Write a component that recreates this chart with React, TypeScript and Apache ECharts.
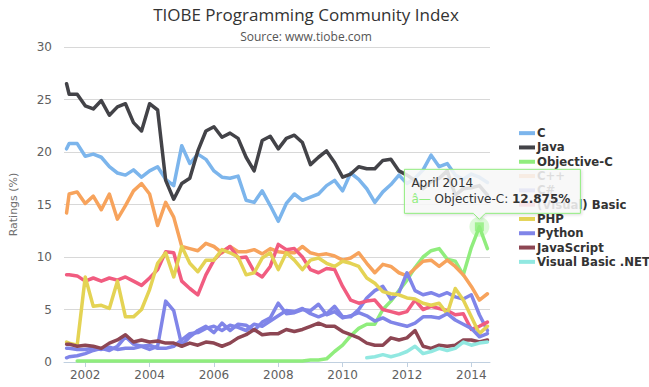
import React, { useEffect, useRef } from "react";
import * as echarts from "echarts";

// x positions (decimal years, quarterly from June 2001)
const years = [
  2001.42, 2001.5, 2001.75, 2002, 2002.25, 2002.5, 2002.75, 2003, 2003.25, 2003.5, 2003.75,
  2004, 2004.25, 2004.5, 2004.75, 2005, 2005.25, 2005.5, 2005.75, 2006, 2006.25, 2006.5, 2006.75,
  2007, 2007.25, 2007.5, 2007.75, 2008, 2008.25, 2008.5, 2008.75, 2009, 2009.25, 2009.5, 2009.75,
  2010, 2010.25, 2010.5, 2010.75, 2011, 2011.25, 2011.5, 2011.75, 2012, 2012.25, 2012.5, 2012.75,
  2013, 2013.25, 2013.5, 2013.75, 2014, 2014.25, 2014.5,
];

const seriesNames = [
  "C", "Java", "Objective-C", "C++", "C#", "(Visual) Basic", "PHP", "Python", "JavaScript", "Visual Basic .NET",
];
const seriesColors = [
  "#7cb5ec", "#434348", "#90ed7d", "#f7a35c", "#8085e9", "#f15c80", "#e4d354", "#8085e8", "#8d4653", "#91e8e1",
];

const cValues = [
  20.3, 20.8, 20.8, 19.6, 19.8, 19.5, 18.6, 18.0, 17.8, 18.3, 17.6,
  18.2, 18.6, 17.4, 16.8, 20.6, 18.9, 19.8, 19.3, 18.2, 17.6, 17.5, 17.7,
  15.4, 15.2, 16.3, 14.9, 13.4, 15.1, 16.0, 15.4, 15.7, 16.0, 16.8, 17.3,
  16.3, 18.0, 17.4, 16.5, 15.2, 16.2, 16.9, 17.8, 17.0, 17.5, 18.3, 19.7,
  18.6, 18.9, 17.8, 17.4, 17.9, 17.6, 17.1,
];
const javaValues = [
  26.5, 25.5, 25.5, 24.4, 24.1, 24.9, 23.5, 24.3, 24.6, 22.8, 22.0,
  24.6, 24.0, 17.3, 15.5, 17.0, 17.5, 20.1, 22.0, 22.4, 21.4, 21.8, 21.3,
  19.5, 18.2, 21.1, 21.5, 20.3, 21.3, 21.6, 20.9, 18.8, 19.5, 20.1, 19.0,
  17.6, 17.9, 18.6, 18.4, 18.4, 19.2, 19.3, 18.2, 17.8, 17.3, 16.5, 17.2,
  17.5, 18.2, 15.9, 16.5, 16.6, 16.8, 15.9,
];
const objcValues = [
  null, null, 0.1, 0.1, 0.1, 0.1, 0.1, 0.1, 0.1, 0.1, 0.1,
  0.1, 0.1, 0.1, 0.1, 0.1, 0.1, 0.1, 0.1, 0.1, 0.1, 0.1, 0.1,
  0.1, 0.1, 0.1, 0.1, 0.1, 0.1, 0.1, 0.1, 0.2, 0.2, 0.3, 1.0,
  1.6, 2.5, 3.2, 3.6, 3.6, 5.0, 5.8, 6.8, 7.8, 9.0, 10.0, 10.6,
  10.8, 9.8, 9.6, 8.3, 10.9, 12.875, 10.8,
];
const cppValues = [
  14.2, 16.0, 16.2, 15.1, 15.8, 14.5, 16.0, 13.6, 14.9, 16.3, 17.0,
  16.0, 13.0, 15.2, 13.8, 11.0, 10.8, 10.6, 11.3, 11.0, 10.4, 11.0, 10.5,
  10.5, 10.7, 10.3, 10.8, 10.5, 10.4, 10.4, 11.0, 10.4, 10.2, 10.3, 10.1,
  9.7, 9.9, 10.4, 9.4, 8.5, 9.3, 9.1, 8.5, 8.2, 8.9, 9.6, 9.7,
  9.1, 9.7, 9.1, 8.3, 7.2, 5.9, 6.5,
];
const csharpValues = [
  0.4, 0.5, 0.6, 0.8, 1.1, 1.3, 1.1, 1.5, 2.4, 1.7, 1.5,
  1.6, 1.3, 1.3, 1.5, 2.1, 2.7, 2.8, 3.2, 3.4, 3.0, 3.5, 3.3,
  3.0, 3.6, 3.4, 3.9, 4.4, 4.9, 4.8, 5.1, 4.6, 4.3, 4.6, 5.3,
  4.3, 4.3, 5.0, 6.1, 6.8, 7.2, 6.0, 6.6, 8.5, 6.8, 6.4, 6.6,
  6.3, 6.6, 6.2, 6.0, 6.4, 4.5, 3.0,
];
const basicValues = [
  8.3, 8.3, 8.2, 7.7, 8.0, 7.7, 8.0, 7.8, 8.1, 7.7, 7.3,
  8.0, 8.8, 10.5, 10.4, 7.7, 7.0, 6.4, 8.3, 9.7, 10.5, 11.0, 9.9,
  10.0, 8.6, 8.1, 9.1, 11.2, 10.7, 10.8, 10.0, 8.8, 8.5, 8.9, 8.8,
  7.2, 5.9, 5.6, 5.8, 5.9, 5.0, 4.8, 4.6, 4.8, 5.9, 5.0, 5.3,
  5.1, 4.9, 4.5, 4.6, 3.1, 3.4, 3.8,
];
const phpValues = [
  1.9, 1.8, 1.6, 8.1, 5.3, 5.4, 5.1, 7.7, 4.3, 4.3, 5.0,
  6.9, 9.4, 10.4, 8.1, 11.0, 9.4, 8.6, 9.7, 9.7, 10.7, 10.4, 10.0,
  8.3, 8.5, 9.9, 10.4, 8.8, 10.4, 9.7, 8.8, 9.7, 9.9, 9.4, 9.1,
  9.6, 9.4, 9.1, 8.0, 7.5, 6.7, 6.5, 6.4, 6.1, 6.0, 5.6, 5.4,
  5.6, 4.6, 7.0, 5.9, 4.3, 2.7, 3.4,
];
const pythonValues = [
  1.3, 1.3, 1.2, 1.2, 1.3, 1.2, 1.4, 1.2, 1.3, 1.3, 1.5,
  1.2, 1.5, 5.8, 4.9, 1.6, 2.4, 3.0, 3.4, 2.8, 3.7, 3.0, 3.6,
  3.5, 3.0, 3.8, 4.2, 5.6, 4.6, 4.7, 5.0, 4.9, 5.5, 4.5, 4.8,
  4.2, 4.4, 4.7, 4.4, 3.9, 4.2, 3.8, 3.6, 3.4, 3.7, 4.3, 4.3,
  4.2, 4.6, 4.0, 3.6, 3.2, 2.4, 2.7,
];
const jsValues = [
  1.7, 1.7, 1.5, 1.6, 1.5, 1.3, 1.8, 2.1, 2.6, 1.9, 2.1,
  1.9, 2.0, 1.8, 1.8, 1.5, 1.8, 1.6, 1.9, 1.8, 1.5, 1.8, 2.3,
  2.6, 3.1, 2.6, 2.7, 2.7, 3.1, 2.9, 3.1, 3.4, 3.7, 3.4, 3.4,
  2.9, 2.6, 2.3, 1.8, 1.6, 1.6, 2.3, 2.1, 2.3, 3.0, 1.5, 1.3,
  1.6, 1.5, 1.6, 2.1, 2.1, 1.9, 2.1,
];
const vbnetValues = [
  null, null, null, null, null, null, null, null, null, null, null,
  null, null, null, null, null, null, null, null, null, null, null, null,
  null, null, null, null, null, null, null, null, null, null, null, null,
  null, null, null, 0.4, 0.5, 0.7, 0.5, 0.7, 1.0, 1.5, 0.8, 1.0,
  1.3, 1.1, 1.3, 1.9, 1.6, 1.8, 1.9,
];

const allValues = [
  cValues, javaValues, objcValues, cppValues, csharpValues, basicValues, phpValues, pythonValues, jsValues, vbnetValues,
];

const xTickYears = [2002, 2004, 2006, 2008, 2010, 2012, 2014];

const hoverSeries = 2; // Objective-C
const hoverIndex = 52; // April 2014
const hoverLabel = "April 2014";

export default function App() {
  const ref = useRef<HTMLDivElement>(null);

  useEffect(() => {
    if (!ref.current) return;
    const chart = echarts.init(ref.current, null, { renderer: "svg" });

    const toPairs = (vals: (number | null)[]) =>
      years.map((y, i) => [y, vals[i]]).filter((p) => p[1] !== null);

    const hx = years[hoverIndex];
    const hy = allValues[hoverSeries][hoverIndex] as number;
    const hColor = seriesColors[hoverSeries];

    const lineSeries = seriesNames.map((name, i) => ({
      name,
      type: "line",
      data: toPairs(allValues[i]),
      showSymbol: false,
      symbol: "none",
      silent: true,
      color: seriesColors[i],
      lineStyle: { width: 3.5, color: seriesColors[i], join: "round", cap: "round" },
      emphasis: { disabled: true },
    }));

    chart.setOption({
      animation: false,
      color: seriesColors,
      title: {
        text: "TIOBE Programming Community Index",
        subtext: "Source: www.tiobe.com",
        left: 301,
        top: 0,
        textAlign: "center",
        itemGap: 6,
        textStyle: {
          fontFamily: "Open Sans",
          fontSize: 17,
          fontWeight: "normal",
          color: "#333333",
          lineHeight: 18,
        },
        subtextStyle: {
          fontFamily: "Open Sans",
          fontSize: 12,
          color: "#555555",
          lineHeight: 14,
        },
      },
      legend: {
        orient: "vertical",
        left: 514,
        top: 121,
        data: seriesNames,
        icon: "rect",
        itemWidth: 16,
        itemHeight: 4,
        itemGap: 0,
        selectedMode: false,
        textStyle: {
          fontFamily: "DejaVu Sans",
          fontSize: 11.7,
          fontWeight: "bold",
          color: "#333333",
          lineHeight: 14.3,
          padding: [0, 0, 0, -3],
        },
      },
      grid: { left: 48, right: 159, top: 47, bottom: 25, containLabel: false },
      xAxis: {
        type: "value",
        min: 2001.34,
        max: 2014.58,
        splitLine: { show: false },
        axisLine: { show: true, lineStyle: { color: "#C0D0E0", width: 1 } },
        axisTick: { show: true, length: 5, lineStyle: { color: "#C0D0E0" }, customValues: xTickYears },
        axisLabel: {
          customValues: xTickYears,
          formatter: (v: number) => String(Math.round(v)),
          color: "#606060",
          fontFamily: "DejaVu Sans",
          fontSize: 12,
          margin: 7,
        },
      },
      yAxis: {
        type: "value",
        min: 0,
        max: 30,
        interval: 5,
        name: "Ratings (%)",
        nameLocation: "middle",
        nameRotate: 90,
        nameGap: 45,
        nameTextStyle: { color: "#707070", fontFamily: "DejaVu Sans", fontSize: 11 },
        axisLine: { show: false },
        axisTick: { show: false },
        splitLine: { lineStyle: { color: "#D8D8D8", width: 1 } },
        axisLabel: { color: "#606060", fontFamily: "DejaVu Sans", fontSize: 12, margin: 12 },
      },
      series: [
        ...lineSeries,
        {
          name: "halo",
          type: "scatter",
          data: [[hx, hy]],
          symbol: "circle",
          symbolSize: 20,
          silent: true,
          itemStyle: { color: hColor, opacity: 0.3 },
          z: 5,
        },
        {
          name: "marker",
          type: "scatter",
          data: [[hx, hy]],
          symbol: "rect",
          symbolSize: 9,
          silent: true,
          itemStyle: { color: hColor },
          z: 6,
        },
      ],
    });

    const p = chart.convertToPixel({ gridIndex: 0 }, [hx, hy]) as number[];
    const ax = p[0];
    const left = ax - 75;
    const top = p[1] - 57.5;
    const w = 176;
    const h = 44;
    const b = top + h;
    const fontBase = { fontFamily: "DejaVu Sans", fontSize: 12 };

    chart.setOption({
      graphic: [
        {
          type: "polygon",
          z: 100,
          zlevel: 0,
          silent: true,
          shape: {
            points: [
              [left, top],
              [left + w, top],
              [left + w, b],
              [ax + 6, b],
              [ax, b + 6],
              [ax - 6, b],
              [left, b],
            ],
          },
          style: {
            fill: "rgba(249,249,249,0.85)",
            stroke: hColor,
            lineWidth: 1,
            shadowBlur: 3,
            shadowColor: "rgba(0,0,0,0.15)",
            shadowOffsetX: 1,
            shadowOffsetY: 1,
          },
        },
        {
          type: "text",
          z: 101,
          silent: true,
          x: left + 7,
          y: top + 14,
          style: {
            text: hoverLabel,
            ...fontBase,
            fill: "#333333",
            verticalAlign: "middle",
          },
        },
        {
          type: "text",
          z: 101,
          silent: true,
          x: left + 7,
          y: top + 30,
          style: {
            text: "{d|â—} {n|" + seriesNames[hoverSeries] + ": }{v|" + hy + "%}",
            ...fontBase,
            fill: "#333333",
            verticalAlign: "middle",
            rich: {
              d: { ...fontBase, fill: hColor },
              n: { ...fontBase, fill: "#333333" },
              v: { ...fontBase, fill: "#333333", fontWeight: "bold" },
            },
          },
        },
      ],
    });

    return () => chart.dispose();
  }, []);

  return (
    <div
      ref={ref}
      style={{ position: "fixed", left: 0, top: 0, width: 649, height: 387, background: "#ffffff" }}
    />
  );
}
